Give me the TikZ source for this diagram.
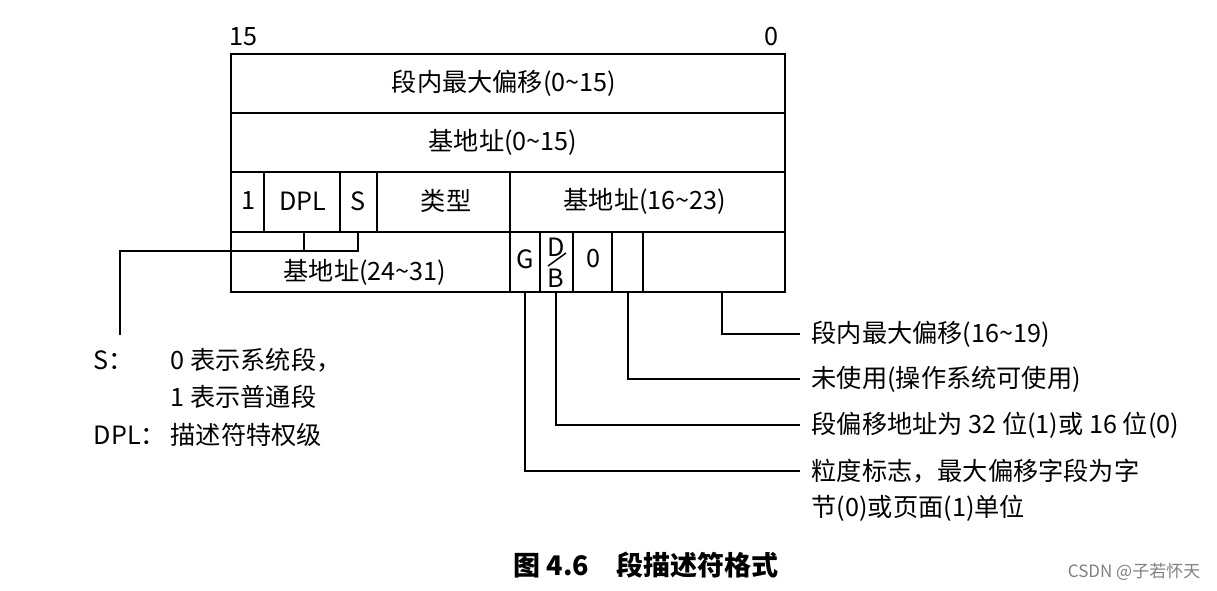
\documentclass[tikz,border=0pt]{standalone}
\usepackage{fontspec}
\setmainfont{Noto Sans CJK SC}
\usetikzlibrary{positioning}
\begin{document}
\begin{tikzpicture}[x=0.5pt,y=-0.5pt,line width=0.75pt]
\tikzstyle{every node}+=[inner sep=0pt,font=\fontsize{12.6}{15}\selectfont]
\tikzstyle{note}=[anchor=west]
\useasboundingbox (0,0) rectangle (1217,590);
% bit numbers
\node (bitHi) at (243,37) {15};
\node (bitLo) at (771,37) {0};
% frame
\draw (231,54) rectangle (785,292);
\draw (231,113) -- (785,113);
\draw (231,172) -- (785,172);
\draw (231,232) -- (785,232);
\draw (264,172) -- (264,232);
\draw (340,172) -- (340,232);
\draw (377,172) -- (377,232);
\draw (510,172) -- (510,292);
\draw (540,232) -- (540,292);
\draw (573,232) -- (573,292);
\draw (612,232) -- (612,292);
\draw (643,232) -- (643,292);
% fields
\node (limLow) at (504,83) {段内最大偏移(0\textasciitilde15)};
\node (baseLow) at (503,142) {基地址(0\textasciitilde15)};
\node (present) at (248,201) {1};
\node (dpl) at (303,201) {DPL};
\node (sbit) at (358,201) {S};
\node (type) at (446,201) {类型};
\node (baseMid) at (645,201) {基地址(16\textasciitilde23)};
\node (baseHi) at (365,272) {基地址(24\textasciitilde31)};
\node (gbit) at (525,259) {G};
\node (dbit) at (556,247) {D};
\node (bbit) at (556,278) {B};
\draw (548,266) -- (566,253);
\node (zbit) at (593,259) {0};
% feet of the leaders
\coordinate (dplFoot) at (304,232);
\coordinate (sFoot) at (358,232);
\coordinate (leftEnd) at (120,335);
\coordinate (gFoot) at (525,292);
\coordinate (dbFoot) at (556,292);
\coordinate (avlFoot) at (628,292);
\coordinate (limFoot) at (722,292);
% notes on the right
\node[note] (limNote) at (811,334) {段内最大偏移(16\textasciitilde19)};
\node[note] (avlNote) at (811,379) {未使用(操作系统可使用)};
\node[note] (dbNote) at (811,425) {段偏移地址为 32 位(1)或 16 位(0)};
\node[note] (gNote) at (811,471) {粒度标志，最大偏移字段为字};
\node[note] (gNoteB) at (811,508) {节(0)或页面(1)单位};
% notes on the left
\node[note] (sKey) at (93,360) {S：};
\node[note] (sVal) at (170,360) {0 表示系统段，};
\node[note] (sValB) at (170,397) {1 表示普通段};
\node[note] (dplKey) at (93,435) {DPL：};
\node[note] (dplVal) at (170,435) {描述符特权级};
% leaders
\draw (dplFoot) -- ++(0,19);
\draw (sFoot) -- ++(0,19) -| (leftEnd);
\draw (limFoot) |- ([xshift=-5.5pt]limNote.west);
\draw (avlFoot) |- ([xshift=-5.5pt]avlNote.west);
\draw (dbFoot) |- ([xshift=-5.5pt]dbNote.west);
\draw (gFoot) |- ([xshift=-5.5pt]gNote.west);
% caption
\node (caption) at (646,565) {\fontsize{13.5}{16}\selectfont\bfseries 图 4.6\quad 段描述符格式};
\node[anchor=east,text=gray] (mark) at (1201,572) {\fontsize{8.5}{10}\selectfont CSDN @子若怀天};
\end{tikzpicture}
\end{document}
